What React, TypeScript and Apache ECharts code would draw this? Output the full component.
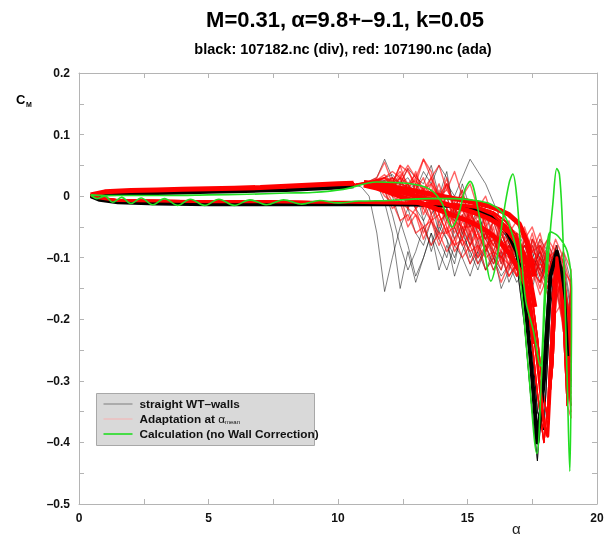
import React, { useEffect, useRef } from "react";
import * as echarts from "echarts";

// ---- data ----
const X_MIN = 0, X_MAX = 20, X_STEP = 5;
const Y_MIN = -0.5, Y_MAX = 0.2, Y_STEP = 0.1;

// downstroke (alpha decreasing) grid shared by all measured cycles
const DOWN_ALPHA = [19.0, 18.7, 18.4, 18.1, 17.8, 17.5, 17.2, 16.9, 16.6, 16.3, 16.0, 15.7, 15.4, 15.1, 14.8, 14.5, 14.2, 13.9, 13.6, 13.3, 13.0, 12.7, 12.4, 12.1, 11.8, 11.5, 11.2, 10.9, 10.6];

const RED_DOWN = [
  [-0.32, -0.18, -0.10, -0.14, -0.08, -0.13, -0.07, -0.12, -0.06, -0.11, -0.05, -0.09, -0.03, -0.07, -0.02, -0.05, 0.0, -0.03, 0.02, -0.01, 0.03, 0.01, 0.035, 0.02, 0.03, 0.025, 0.022, 0.02, 0.018],
  [-0.25, -0.12, -0.17, -0.09, -0.15, -0.11, -0.06, -0.13, -0.10, -0.05, -0.09, -0.04, -0.08, -0.02, -0.06, -0.01, -0.04, 0.01, -0.03, 0.015, -0.01, 0.02, 0.005, 0.025, 0.015, 0.028, 0.02, 0.02, 0.018],
  [-0.36, -0.20, -0.14, -0.08, -0.13, -0.07, -0.14, -0.09, -0.12, -0.07, -0.10, -0.05, -0.09, -0.03, -0.07, -0.04, -0.02, -0.05, 0.0, -0.03, 0.02, -0.01, 0.03, 0.01, 0.025, 0.02, 0.024, 0.021, 0.019],
  [-0.15, -0.10, -0.16, -0.12, -0.07, -0.12, -0.09, -0.06, -0.11, -0.08, -0.04, -0.09, -0.06, -0.02, -0.07, -0.03, 0.02, -0.02, 0.03, 0.0, 0.04, 0.01, 0.05, 0.02, 0.035, 0.026, 0.023, 0.02, 0.018],
  [-0.28, -0.14, -0.09, -0.15, -0.12, -0.08, -0.13, -0.10, -0.07, -0.12, -0.09, -0.06, -0.10, -0.07, -0.04, -0.08, -0.05, -0.01, -0.04, -0.02, 0.01, -0.02, 0.02, 0.0, 0.022, 0.018, 0.022, 0.02, 0.018],
  [-0.18, -0.22, -0.12, -0.07, -0.10, -0.14, -0.11, -0.08, -0.05, -0.09, -0.06, -0.03, -0.07, -0.04, -0.01, -0.05, -0.02, 0.02, -0.01, 0.03, 0.01, 0.045, 0.02, 0.03, 0.015, 0.024, 0.021, 0.02, 0.017],
  [-0.34, -0.16, -0.11, -0.09, -0.12, -0.10, -0.08, -0.11, -0.09, -0.06, -0.10, -0.07, -0.05, -0.08, -0.05, -0.02, -0.06, -0.03, 0.01, -0.02, 0.02, 0.0, 0.03, 0.015, 0.03, 0.022, 0.023, 0.021, 0.019],
  [-0.12, -0.09, -0.13, -0.15, -0.09, -0.07, -0.12, -0.13, -0.08, -0.10, -0.07, -0.08, -0.04, -0.06, -0.03, -0.06, -0.03, -0.04, -0.01, 0.0, -0.02, 0.02, 0.0, 0.03, 0.02, 0.027, 0.022, 0.02, 0.018],
  [-0.30, -0.19, -0.13, -0.11, -0.09, -0.11, -0.08, -0.09, -0.07, -0.08, -0.06, -0.07, -0.04, -0.05, -0.02, -0.03, -0.01, -0.02, 0.0, 0.005, 0.01, 0.015, 0.02, 0.02, 0.022, 0.024, 0.022, 0.02, 0.018],
  [-0.22, -0.13, -0.10, -0.12, -0.10, -0.09, -0.11, -0.08, -0.10, -0.09, -0.08, -0.06, -0.07, -0.05, -0.05, -0.04, -0.03, -0.02, -0.02, -0.01, 0.0, 0.005, 0.01, 0.015, 0.02, 0.023, 0.022, 0.02, 0.018],
  [-0.26, -0.11, -0.08, -0.13, -0.11, -0.06, -0.10, -0.12, -0.07, -0.04, -0.08, -0.05, -0.02, -0.06, 0.0, -0.03, 0.03, -0.01, 0.04, 0.06, 0.02, 0.04, 0.05, 0.02, 0.055, 0.03, 0.024, 0.021, 0.018],
  [-0.20, -0.15, -0.12, -0.10, -0.14, -0.12, -0.09, -0.07, -0.09, -0.06, -0.04, -0.07, -0.05, -0.03, -0.04, -0.02, -0.03, 0.0, -0.01, 0.01, 0.0, 0.02, 0.01, 0.02, 0.02, 0.025, 0.022, 0.02, 0.018],
  [-0.33, -0.21, -0.15, -0.12, -0.11, -0.13, -0.12, -0.10, -0.11, -0.10, -0.09, -0.10, -0.08, -0.09, -0.07, -0.08, -0.06, -0.06, -0.04, -0.05, -0.03, -0.02, -0.01, 0.0, 0.01, 0.02, 0.022, 0.02, 0.018],
  [-0.14, -0.12, -0.09, -0.10, -0.08, -0.09, -0.07, -0.06, -0.05, -0.06, -0.03, -0.04, -0.02, -0.03, 0.0, -0.01, 0.01, 0.0, 0.02, 0.01, 0.025, 0.02, 0.03, 0.02, 0.028, 0.026, 0.023, 0.02, 0.018],
  [-0.29, -0.17, -0.19, -0.13, -0.16, -0.12, -0.15, -0.11, -0.13, -0.09, -0.11, -0.08, -0.10, -0.06, -0.08, -0.05, -0.06, -0.03, -0.04, -0.01, -0.02, 0.01, 0.0, 0.02, 0.015, 0.024, 0.022, 0.02, 0.018],
  [-0.24, -0.10, -0.07, -0.11, -0.06, -0.09, -0.05, -0.08, -0.04, -0.07, -0.03, -0.05, -0.01, -0.04, 0.01, -0.02, 0.02, 0.0, 0.03, 0.01, 0.035, 0.02, 0.04, 0.025, 0.03, 0.026, 0.023, 0.02, 0.018],
  [-0.27, -0.15, -0.12, -0.16, -0.13, -0.10, -0.14, -0.11, -0.13, -0.10, -0.12, -0.09, -0.11, -0.08, -0.10, -0.07, -0.09, -0.06, -0.08, -0.05, -0.06, -0.03, -0.04, -0.01, 0.0, 0.02, 0.022, 0.02, 0.018],
  [-0.21, -0.13, -0.16, -0.11, -0.14, -0.12, -0.10, -0.13, -0.11, -0.14, -0.10, -0.12, -0.08, -0.11, -0.07, -0.09, -0.05, -0.08, -0.04, -0.07, -0.03, -0.05, -0.01, -0.02, 0.01, 0.022, 0.022, 0.02, 0.018],
  [-0.23, -0.14, -0.09, -0.07, -0.09, -0.05, -0.07, -0.04, -0.06, -0.02, -0.04, 0.0, -0.02, 0.02, 0.0, 0.04, 0.01, 0.05, 0.03, 0.06, 0.03, 0.05, 0.03, 0.04, 0.03, 0.027, 0.023, 0.02, 0.018],
  [-0.35, -0.19, -0.11, -0.13, -0.10, -0.12, -0.09, -0.11, -0.08, -0.10, -0.07, -0.09, -0.06, -0.08, -0.05, -0.07, -0.04, -0.07, -0.03, -0.06, -0.02, -0.04, 0.0, -0.01, 0.015, 0.024, 0.022, 0.02, 0.018],
];

const BLACK_DOWN = [
  [-0.30, -0.16, -0.12, -0.09, -0.14, -0.10, -0.07, -0.12, -0.08, -0.11, -0.06, -0.09, -0.04, -0.08, -0.03, -0.07, -0.02, -0.06, -0.01, -0.04, 0.01, -0.02, 0.02, 0.0, 0.025, 0.02, 0.022, 0.02, 0.018],
  [-0.20, -0.13, -0.17, -0.11, -0.08, -0.13, -0.10, -0.06, -0.12, -0.15, -0.09, -0.12, -0.07, -0.10, -0.05, -0.11, -0.08, -0.12, -0.06, -0.10, -0.14, -0.09, -0.15, -0.06, -0.01, 0.02, 0.022, 0.02, 0.018],
  [-0.34, -0.12, -0.09, -0.14, -0.12, -0.08, -0.11, -0.09, -0.06, -0.10, -0.07, -0.03, -0.06, -0.02, 0.02, -0.03, 0.04, 0.0, 0.05, 0.02, 0.03, 0.045, 0.02, 0.035, 0.03, 0.025, 0.022, 0.02, 0.018],
  [-0.18, -0.10, -0.13, -0.16, -0.10, -0.07, -0.13, -0.11, -0.14, -0.09, -0.12, -0.08, -0.11, -0.06, -0.09, -0.13, -0.07, -0.05, -0.09, -0.04, -0.02, 0.0, 0.01, 0.02, 0.02, 0.024, 0.022, 0.02, 0.018],
  [-0.26, -0.17, -0.10, -0.08, -0.11, -0.13, -0.09, -0.07, -0.05, -0.08, -0.04, -0.07, -0.02, -0.05, 0.01, -0.02, 0.03, 0.05, 0.02, 0.04, 0.01, 0.03, 0.02, 0.03, 0.025, 0.026, 0.022, 0.02, 0.018],
  [-0.31, -0.14, -0.11, -0.13, -0.09, -0.12, -0.14, -0.10, -0.08, -0.12, -0.10, -0.06, -0.09, -0.11, -0.08, -0.05, -0.10, -0.07, -0.04, -0.08, -0.06, -0.02, -0.05, -0.10, -0.155, -0.06, 0.0, 0.015, 0.018],
  [-0.14, -0.09, -0.12, -0.10, -0.13, -0.09, -0.06, -0.09, -0.07, -0.05, -0.08, -0.06, -0.03, -0.05, -0.02, -0.04, 0.0, -0.02, 0.01, 0.0, 0.02, 0.01, 0.025, 0.015, 0.02, 0.023, 0.022, 0.02, 0.018],
  [-0.24, -0.20, -0.15, -0.12, -0.10, -0.15, -0.12, -0.14, -0.11, -0.13, -0.10, -0.12, -0.09, -0.13, -0.10, -0.08, -0.12, -0.09, -0.06, -0.10, -0.13, -0.08, -0.04, 0.0, 0.015, 0.022, 0.022, 0.02, 0.018],
  [-0.28, -0.12, -0.14, -0.09, -0.07, -0.10, -0.08, -0.11, -0.09, -0.06, -0.09, -0.07, -0.05, -0.04, -0.06, -0.02, -0.04, -0.01, -0.03, 0.01, -0.01, 0.02, 0.005, 0.03, 0.06, 0.03, 0.024, 0.021, 0.018],
  [-0.22, -0.14, -0.11, -0.09, -0.12, -0.10, -0.08, -0.10, -0.07, -0.04, -0.01, 0.02, 0.04, 0.06, 0.03, 0.0, 0.02, -0.01, 0.01, 0.0, 0.01, 0.015, 0.02, 0.02, 0.022, 0.023, 0.022, 0.02, 0.018],
  [-0.19, -0.11, -0.15, -0.12, -0.09, -0.12, -0.08, -0.12, -0.10, -0.07, -0.11, -0.08, -0.12, -0.09, -0.06, -0.10, -0.07, -0.04, -0.08, -0.05, -0.09, -0.12, -0.08, -0.03, 0.01, 0.022, 0.022, 0.02, 0.018],
];

// attached downstroke (alpha decreasing back to the minimum)
const UPPER_ALPHA = [10.6, 10, 9, 8, 7, 6, 5, 4, 3, 2, 1, 0.45];
const BLACK_UPPER = [0.016, 0.014, 0.012, 0.01, 0.009, 0.008, 0.007, 0.006, 0.005, 0.004, 0.003, 0.0];
const RED_UPPER = [0.021, 0.02, 0.018, 0.016, 0.014, 0.013, 0.012, 0.011, 0.010, 0.009, 0.007, 0.002];

// upstroke (alpha increasing) with the moment stall
const BLACK_UP_ALPHA = [0.45, 0.8, 1.5, 3, 5, 7, 9, 10.5, 12, 13.5, 14.5, 15.3, 16.0, 16.5, 16.9, 17.2, 17.45, 17.7, 17.95, 18.2, 18.45, 18.7, 18.85];
const BLACK_UP = [
  [0.0, -0.006, -0.010, -0.012, -0.013, -0.013, -0.013, -0.013, -0.013, -0.014, -0.016, -0.022, -0.035, -0.055, -0.09, -0.16, -0.27, -0.40, -0.30, -0.13, -0.09, -0.14, -0.26],
  [0.0, -0.005, -0.009, -0.011, -0.012, -0.012, -0.012, -0.012, -0.013, -0.014, -0.016, -0.021, -0.032, -0.05, -0.07, -0.12, -0.22, -0.35, -0.38, -0.18, -0.10, -0.12, -0.22],
  [0.0, -0.007, -0.011, -0.013, -0.014, -0.014, -0.014, -0.013, -0.014, -0.015, -0.018, -0.025, -0.04, -0.065, -0.11, -0.21, -0.33, -0.43, -0.25, -0.11, -0.08, -0.16, -0.30],
];
const RED_UP_ALPHA = [0.45, 0.8, 1.5, 3, 5, 7, 9, 10.5, 12, 13.5, 14.5, 15.3, 16.0, 16.5, 16.9, 17.2, 17.45, 17.7, 17.95, 18.1, 18.3, 18.45, 18.7, 18.85];
const RED_UP = [
  [0.002, -0.003, -0.007, -0.008, -0.009, -0.009, -0.010, -0.010, -0.011, -0.012, -0.014, -0.018, -0.03, -0.05, -0.08, -0.12, -0.18, -0.27, -0.37, -0.39, -0.22, -0.10, -0.18, -0.30],
  [0.002, -0.002, -0.006, -0.007, -0.008, -0.008, -0.009, -0.009, -0.010, -0.011, -0.013, -0.016, -0.026, -0.042, -0.065, -0.10, -0.15, -0.23, -0.33, -0.36, -0.27, -0.13, -0.15, -0.26],
  [0.002, -0.004, -0.008, -0.009, -0.010, -0.010, -0.011, -0.011, -0.012, -0.013, -0.016, -0.021, -0.035, -0.06, -0.095, -0.14, -0.22, -0.32, -0.40, -0.34, -0.16, -0.09, -0.21, -0.34],
];

// dense cores of the red reattachment band
const RED_CORE_ALPHA = [17.6, 17.3, 17.0, 16.6, 16.2, 15.8, 15.4, 15.0, 14.5, 14.0, 13.5, 13.0, 12.5, 12.0, 11.5, 11.0];
const RED_CORE_HI = [-0.13, -0.075, -0.045, -0.03, -0.022, -0.016, -0.012, -0.008, -0.004, 0.0, 0.004, 0.008, 0.012, 0.016, 0.02, 0.022];
const RED_CORE_MID = [-0.18, -0.11, -0.08, -0.058, -0.045, -0.036, -0.029, -0.023, -0.017, -0.011, -0.005, 0.0, 0.006, 0.012, 0.017, 0.02];
const RED_CORE_LO = [-0.24, -0.15, -0.12, -0.092, -0.072, -0.058, -0.048, -0.04, -0.032, -0.024, -0.016, -0.009, -0.002, 0.006, 0.013, 0.018];

// calculation (no wall correction)
const GREEN_ALPHA = [0.45, 0.7, 1.0, 1.3, 1.65, 2.0, 2.4, 2.85, 3.3, 3.8, 4.3, 4.85, 5.4, 6.0, 6.6, 7.25, 7.9, 8.6, 9.3, 10.0, 10.8, 12.0, 13.5, 14.5, 15.3, 15.9, 16.3, 16.6, 16.9, 17.1, 17.35, 17.68, 17.85, 18.0, 18.15, 18.3, 18.45, 18.55, 18.65, 18.75, 18.85, 18.95, 19.0, 19.02,
  18.85, 18.5, 18.2, 18.0, 17.8, 17.55, 17.25, 17.05, 16.9, 16.75, 16.6, 16.35, 16.1, 15.9, 15.7, 15.4, 15.1, 14.9, 14.65, 14.4, 14.0, 13.55, 12.8, 11.5, 10.2, 9.0, 8.0, 6.5, 5.0, 3.5, 2.0, 1.0, 0.45];
const GREEN_CM = [0.002, -0.004, 0.0, -0.010, -0.002, -0.012, -0.003, -0.014, -0.004, -0.015, -0.005, -0.015, -0.005, -0.015, -0.006, -0.014, -0.006, -0.013, -0.007, -0.011, -0.008, -0.007, -0.004, -0.004, -0.007, -0.013, -0.025, -0.046, -0.09, -0.16, -0.28, -0.418, -0.30, -0.17, -0.08, -0.01, 0.045, 0.035, -0.03, -0.15, -0.30, -0.447, -0.30, -0.15,
  -0.09, -0.065, -0.058, -0.14, -0.276, -0.22, -0.17, -0.08, 0.0, 0.036, 0.02, -0.04, -0.11, -0.138, -0.10, -0.02, 0.024, 0.01, -0.03, -0.05, -0.01, 0.011, 0.02, 0.023, 0.011, 0.006, 0.005, 0.003, 0.002, 0.001, 0.001, 0.001, 0.002];

const zip = (xs: number[], ys: number[]) => xs.map((x, i) => [x, ys[i]]);

export default function App() {
  const ref = useRef<HTMLDivElement>(null);
  useEffect(() => {
    if (!ref.current) return;
    const chart = echarts.init(ref.current, undefined, { renderer: "svg" });
    const font = "'Liberation Sans', Arial, Helvetica, sans-serif";
    const axisColor = "#b4b4b4";
    const lineSeries = (name: string, data: number[][], color: string, width: number, z = 2, smooth: number | boolean = false) => ({
      name, type: "line", data, showSymbol: false, symbol: "none", silent: true, z, smooth,
      lineStyle: { color, width, join: "round" }, emphasis: { disabled: true },
    });
    const series: any[] = [];
    BLACK_DOWN.forEach((d, i) => {
      const up = BLACK_UP[i % BLACK_UP.length];
      series.push(lineSeries("straight WT-walls", [...zip(BLACK_UP_ALPHA, up), ...zip(DOWN_ALPHA, d), ...zip(UPPER_ALPHA, BLACK_UPPER)], "rgba(0,0,0,0.5)", 1, 2));
    });
    RED_DOWN.forEach((d, i) => {
      const up = RED_UP[i % RED_UP.length];
      series.push(lineSeries("Adaptation", [...zip(RED_UP_ALPHA, up), ...zip(DOWN_ALPHA, d), ...zip(UPPER_ALPHA, RED_UPPER)], "rgba(255,0,0,0.6)", 1.4, 3));
    });
    series.push(lineSeries("black-up", zip(BLACK_UP_ALPHA, BLACK_UP[0]), "#000", 4, 4));
    series.push(lineSeries("black-upper", zip(UPPER_ALPHA, BLACK_UPPER), "#000", 4, 4));
    series.push(lineSeries("red-up", zip(RED_UP_ALPHA, RED_UP[0]), "#ff0000", 3, 5));
    series.push(lineSeries("red-upper", zip(UPPER_ALPHA, RED_UPPER), "#ff0000", 5, 5));
    series.push(lineSeries("red-core-hi", zip(RED_CORE_ALPHA, RED_CORE_HI), "#ff0000", 5, 5));
    series.push(lineSeries("red-core-mid", zip(RED_CORE_ALPHA, RED_CORE_MID), "#ff0000", 5, 5));
    series.push(lineSeries("red-core-lo", zip(RED_CORE_ALPHA, RED_CORE_LO), "#ff0000", 5, 5));
    series.push(lineSeries("Calculation", zip(GREEN_ALPHA, GREEN_CM), "#22dd22", 1.6, 6, 0.35));

    const tickCommon = {
      axisLine: { show: true, onZero: false, lineStyle: { color: axisColor, width: 1 } },
      axisTick: { show: true, inside: true, length: 5, lineStyle: { color: axisColor } },
      minorTick: { show: true, splitNumber: 2, length: 5, lineStyle: { color: axisColor } },
      splitLine: { show: false },
      minorSplitLine: { show: false },
    };
    const yFmt = (v: number) => {
      const r = Math.round(v * 10) / 10;
      if (r === 0) return "0";
      return r < 0 ? "\u2013" + Math.abs(r).toFixed(1) : r.toFixed(1);
    };

    chart.setOption({
      animation: false,
      grid: { left: 79, right: 16, top: 73, bottom: 36, containLabel: false },
      title: [
        {
          text: "{b|M=0.31,} {n|\u03b1=9.8+\u20139.1, k=0.05}",
          left: 340, top: 3, textAlign: "center",
          textStyle: { rich: { b: { fontFamily: font, fontSize: 22, fontWeight: "bold", color: "#000" }, n: { fontFamily: font, fontSize: 22, color: "#000" } } },
        },
        {
          text: "black: 107182.nc (div), red: 107190.nc (ada)",
          left: 338, top: 36, textAlign: "center",
          textStyle: { fontFamily: font, fontSize: 14.5, fontWeight: "bold", color: "#000" },
        },
      ],
      xAxis: [
        { type: "value", min: X_MIN, max: X_MAX, interval: X_STEP, position: "bottom", ...tickCommon,
          axisLabel: { show: true, margin: 8, color: "#111", fontFamily: font, fontSize: 12, fontWeight: "bold" } },
        { type: "value", min: X_MIN, max: X_MAX, interval: X_STEP, position: "top", ...tickCommon, axisLabel: { show: false } },
      ],
      yAxis: [
        { type: "value", min: Y_MIN, max: Y_MAX, interval: Y_STEP, position: "left", ...tickCommon,
          axisLabel: { show: true, margin: 9, formatter: yFmt, color: "#111", fontFamily: font, fontSize: 12, fontWeight: "bold" } },
        { type: "value", min: Y_MIN, max: Y_MAX, interval: Y_STEP, position: "right", ...tickCommon, axisLabel: { show: false } },
      ],
      series,
      graphic: [
        { type: "text", left: 16, top: 93, style: { text: "C", fontFamily: font, fontSize: 13, fontWeight: "bold", fill: "#000" } },
        { type: "text", left: 26, top: 101, style: { text: "M", fontFamily: font, fontSize: 7, fontWeight: "bold", fill: "#000" } },
        { type: "text", left: 512, top: 521, style: { text: "\u03b1", fontFamily: font, fontSize: 15, fill: "#222" } },
        {
          type: "group", left: 96, top: 393, children: [
            { type: "rect", shape: { x: 0, y: 0, width: 218, height: 52 }, style: { fill: "#d9d9d9", stroke: "#a8a8a8", lineWidth: 1 } },
            { type: "line", shape: { x1: 7, y1: 10.5, x2: 36, y2: 10.5 }, style: { stroke: "#8c8c8c", lineWidth: 1.2 } },
            { type: "line", shape: { x1: 7, y1: 25.5, x2: 36, y2: 25.5 }, style: { stroke: "#f2b8b8", lineWidth: 1.2 } },
            { type: "line", shape: { x1: 7, y1: 40.5, x2: 36, y2: 40.5 }, style: { stroke: "#22dd22", lineWidth: 1.6 } },
            { type: "text", x: 43, y: 10.5, style: { text: "straight WT\u2013walls", fontFamily: font, fontSize: 11.8, fontWeight: "bold", fill: "#111", verticalAlign: "middle" } },
            { type: "text", x: 43, y: 25.5, style: { text: "{a|Adaptation at }{g|\u03b1}{s|mean}", verticalAlign: "middle", rich: {
              a: { fontFamily: font, fontSize: 11.8, fontWeight: "bold", fill: "#111" },
              g: { fontFamily: font, fontSize: 11.8, fill: "#111" },
              s: { fontFamily: font, fontSize: 6, fill: "#111", padding: [6, 0, 0, 0] } } } },
            { type: "text", x: 43, y: 40.5, style: { text: "Calculation (no Wall Correction)", fontFamily: font, fontSize: 11.8, fontWeight: "bold", fill: "#111", verticalAlign: "middle" } },
          ],
        },
      ],
    });
    return () => chart.dispose();
  }, []);
  return <div ref={ref} style={{ position: "fixed", left: 0, top: 0, width: 613, height: 540 }} />;
}
